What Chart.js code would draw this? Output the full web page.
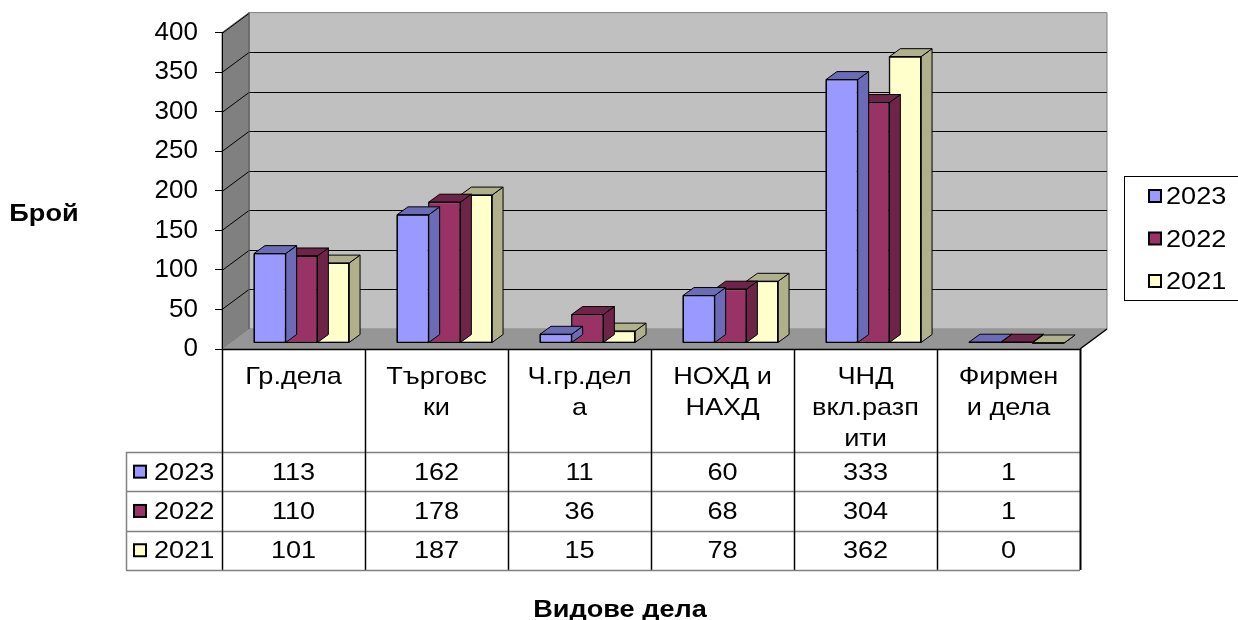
<!DOCTYPE html>
<html>
<head>
<meta charset="utf-8">
<script src="https://cdn.jsdelivr.net/npm/chart.js@4.4.1/dist/chart.umd.min.js"></script>
<style>
  html, body { margin: 0; padding: 0; background: #fff; overflow: hidden; }
  #wrap { width: 1238px; height: 620px; position: relative; }
</style>
</head>
<body>
<div id="wrap"><canvas id="chart"></canvas></div>
<script>
// data
const categories = [['Гр.дела'], ['Търговс', 'ки'], ['Ч.гр.дел', 'а'], ['НОХД и', 'НАХД'], ['ЧНД', 'вкл.разп', 'ити'], ['Фирмен', 'и дела']];
const seriesNames = ['2023', '2022', '2021'];
const values2023 = [113, 162, 11, 60, 333, 1];
const values2022 = [110, 178, 36, 68, 304, 1];
const values2021 = [101, 187, 15, 78, 362, 0];
const yTicks = [0, 50, 100, 150, 200, 250, 300, 350, 400];
const yTitle = 'Брой';
const xTitle = 'Видове дела';

// look
const FONT = 'Arial, "Liberation Sans", sans-serif';
const DEPTH = { x: 27, y: -20 };      // floor depth
const BAR_SHIFT = { x: 8, y: -6 };    // front face of bars behind the axis plane
const BAR_DEPTH = { x: 11, y: -8 };
const frontColors = ['#9999ff', '#993366', '#ffffcc'];
const sideColors = ['#6b6bb8', '#6e2449', '#b0b08c'];
const allValues = [values2023, values2022, values2021];

function poly(ctx, pts, fill, stroke, lw) {
    ctx.beginPath();
    ctx.moveTo(pts[0][0], pts[0][1]);
    for (let i = 1; i < pts.length; i++) ctx.lineTo(pts[i][0], pts[i][1]);
    ctx.closePath();
    if (fill) { ctx.fillStyle = fill; ctx.fill(); }
    if (stroke) { ctx.strokeStyle = stroke; ctx.lineWidth = lw || 1; ctx.stroke(); }
}

function line(ctx, x1, y1, x2, y2, color, lw) {
    ctx.beginPath();
    ctx.moveTo(x1, y1);
    ctx.lineTo(x2, y2);
    ctx.strokeStyle = color;
    ctx.lineWidth = lw || 1;
    ctx.stroke();
}

// slightly wide text, like the original rendering
function text(ctx, str, x, y, align, bold) {
    ctx.save();
    ctx.font = (bold ? 'bold ' : '') + '24px ' + FONT;
    ctx.fillStyle = '#000';
    ctx.textBaseline = 'alphabetic';
    ctx.textAlign = align;
    ctx.translate(x, y);
    ctx.scale(1.13, 1);
    ctx.fillText(str, 0, 0);
    ctx.restore();
}

function marker(ctx, x, yc, color) {
    ctx.fillStyle = color;
    ctx.fillRect(x, yc - 6, 12, 12);
    ctx.strokeStyle = '#000';
    ctx.lineWidth = 2;
    ctx.strokeRect(x, yc - 6, 12, 12);
}

const walls = {
    id: 'walls',
    beforeDraw(chart) {
        const { ctx, chartArea: a } = chart;
        const y = chart.scales.y;
        const dx = DEPTH.x, dy = DEPTH.y;
        ctx.save();
        // back wall
        poly(ctx, [[a.left + dx, a.top + dy], [a.right + dx, a.top + dy], [a.right + dx, a.bottom + dy], [a.left + dx, a.bottom + dy]], '#c0c0c0', '#808080');
        // side wall
        poly(ctx, [[a.left, a.top], [a.left + dx, a.top + dy], [a.left + dx, a.bottom + dy], [a.left, a.bottom]], '#808080', '#6a6a6a');
        // floor
        poly(ctx, [[a.left, a.bottom], [a.right, a.bottom], [a.right + dx, a.bottom + dy], [a.left + dx, a.bottom + dy]], '#969696', null);
        // grid lines on side and back wall
        yTicks.forEach(v => {
            if (v === yTicks[0]) return;
            const py = Math.round(y.getPixelForValue(v)) + 0.5;
            line(ctx, a.left, py, a.left + dx, py + dy, '#000');
            if (v !== yTicks[yTicks.length - 1]) line(ctx, a.left + dx, py + dy, a.right + dx, py + dy, '#000');
        });
        line(ctx, a.left + dx, a.bottom + dy, a.left + dx, a.top + dy, '#606060');
        // floor edges
        line(ctx, a.right, a.bottom, a.right + dx, a.bottom + dy, '#000', 1.5);
        line(ctx, a.left, a.bottom + 0.5, a.right, a.bottom + 0.5, '#000', 1.5);
        ctx.restore();
    },
    beforeDatasetDraw(chart) {
        chart.ctx.save();
        chart.ctx.translate(BAR_SHIFT.x, BAR_SHIFT.y);
    },
    afterDatasetDraw(chart, args) {
        const ctx = chart.ctx;
        const side = sideColors[args.index];
        const dx = BAR_DEPTH.x, dy = BAR_DEPTH.y;
        args.meta.data.forEach(bar => {
            const { x, y, base, width } = bar.getProps(['x', 'y', 'base', 'width'], true);
            const l = x - width / 2, r = x + width / 2;
            poly(ctx, [[r, y], [r + dx, y + dy], [r + dx, base + dy], [r, base]], side, '#000');
            poly(ctx, [[l, y], [r, y], [r + dx, y + dy], [l + dx, y + dy]], side, '#000');
            poly(ctx, [[l, y], [r, y], [r, base], [l, base]], null, '#000');
        });
        ctx.restore();
    },
    afterDraw(chart) {
        const { ctx, chartArea: a } = chart;
        const colW = (a.right - a.left) / categories.length;
        const tableLeft = 126, headBottom = 452, rowH = 39.3;
        const tableBottom = headBottom + rowH * seriesNames.length;
        ctx.save();
        // horizontal lines
        for (let r = 0; r <= seriesNames.length; r++) {
            const py = Math.round(headBottom + r * rowH) + 0.5;
            line(ctx, tableLeft, py, a.right, py, '#808080', 1.5);
        }
        // vertical lines
        line(ctx, tableLeft + 0.5, headBottom, tableLeft + 0.5, tableBottom, '#808080', 1.5);
        for (let i = 0; i <= categories.length; i++) {
            const px = Math.round(a.left + i * colW) + 0.5;
            line(ctx, px, a.bottom, px, tableBottom, '#000', i === categories.length ? 2 : 1.5);
        }
        // header labels
        categories.forEach((lines, i) => {
            const cx = chart.scales.x.getPixelForValue(i);
            lines.forEach((s, k) => text(ctx, s, cx, 384 + k * 31, 'center'));
        });
        // series rows
        seriesNames.forEach((name, r) => {
            const yc = headBottom + r * rowH + rowH / 2;
            marker(ctx, 134, yc, frontColors[r]);
            text(ctx, name, 154, yc + 8, 'left');
            allValues[r].forEach((v, i) => {
                text(ctx, String(v), chart.scales.x.getPixelForValue(i), yc + 8, 'center');
            });
        });
        // legend
        ctx.strokeStyle = '#000';
        ctx.lineWidth = 1;
        ctx.strokeRect(1124.5, 176.5, 130, 124);
        seriesNames.forEach((name, r) => {
            const yc = 196 + r * 42.5;
            marker(ctx, 1149, yc, frontColors[r]);
            text(ctx, name, 1166, yc + 8, 'left');
        });
        // axis titles
        text(ctx, yTitle, 44, 221, 'center', true);
        text(ctx, xTitle, 620, 617, 'center', true);
        ctx.restore();
    }
};

const datasets = seriesNames.map((name, i) => ({
    label: name,
    data: allValues[i],
    backgroundColor: frontColors[i],
    borderColor: '#000',
    borderWidth: 1,
    borderSkipped: false,
    clip: false,
    barPercentage: 1,
    categoryPercentage: 0.665
}));

new Chart(document.getElementById('chart'), {
    type: 'bar',
    data: { labels: categories.map(c => c.join(' ')), datasets: datasets },
    options: {
        responsive: true,
        maintainAspectRatio: false,
        animation: false,
        layout: { padding: { left: 0, top: 32, right: 158, bottom: 271 } },
        plugins: { legend: { display: false }, tooltip: { enabled: false } },
        scales: {
            x: { display: false },
            y: {
                min: 0,
                max: 400,
                afterFit(scale) { scale.width = 222; },
                afterBuildTicks(scale) { scale.ticks = yTicks.map(v => ({ value: v })); },
                border: { display: true, color: '#000', width: 1 },
                grid: { drawOnChartArea: false, drawTicks: true, tickLength: 7, color: '#000' },
                ticks: { padding: 17, color: '#000', font: { family: FONT, size: 26 } }
            }
        }
    },
    plugins: [walls]
});
</script>
</body>
</html>
